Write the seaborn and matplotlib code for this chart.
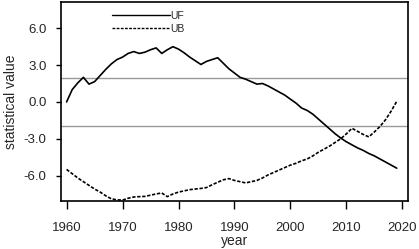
import numpy as np
import pandas as pd
import matplotlib
matplotlib.use("Agg")
import matplotlib.pyplot as plt
import seaborn as sns
from matplotlib.ticker import FuncFormatter

years = list(range(1960, 2020))
uf = [0.0, 1.0, 1.55, 2.0, 1.45, 1.65, 2.15, 2.65, 3.1, 3.45,
      3.65, 3.95, 4.1, 3.95, 4.05, 4.25, 4.4, 3.95, 4.25, 4.5,
      4.3, 4.0, 3.65, 3.35, 3.05, 3.3, 3.45, 3.6, 3.15, 2.7,
      2.35, 2.0, 1.85, 1.65, 1.45, 1.5, 1.3, 1.05, 0.8, 0.55,
      0.22, -0.1, -0.5, -0.7, -1.0, -1.4, -1.8, -2.2, -2.6, -2.95,
      -3.25, -3.5, -3.75, -3.95, -4.2, -4.4, -4.65, -4.9, -5.15, -5.4]
ub = [-5.5, -5.85, -6.2, -6.5, -6.8, -7.1, -7.35, -7.65, -7.9, -7.98,
      -8.0, -7.85, -7.75, -7.72, -7.7, -7.6, -7.5, -7.42, -7.72, -7.5,
      -7.35, -7.25, -7.15, -7.1, -7.05, -6.98, -6.75, -6.55, -6.35, -6.25,
      -6.4, -6.5, -6.6, -6.5, -6.4, -6.2, -5.95, -5.75, -5.55, -5.35,
      -5.15, -5.0, -4.8, -4.65, -4.4, -4.1, -3.85, -3.6, -3.3, -3.0,
      -2.6, -2.15, -2.4, -2.65, -2.85, -2.45, -2.0, -1.45, -0.75, 0.05]
crit = [1.96, -1.96]
xticks = [1960, 1970, 1980, 1990, 2000, 2010, 2020]
yticks = [-6.0, -3.0, 0.0, 3.0, 6.0]

df = pd.DataFrame({
    "year": years * 2,
    "value": uf + ub,
    "series": ["UF"] * len(years) + ["UB"] * len(years),
})

sns.set_theme(style="white")
plt.rcParams["font.family"] = ["Liberation Sans", "DejaVu Sans"]

fig = plt.figure(figsize=(4.19, 2.49), dpi=100)
ax = fig.add_axes([0.1456, 0.194, 0.828, 0.796])

for c in crit:
    ax.axhline(c, color="#9a9a9a", lw=1.0, zorder=1)

sns.lineplot(data=df, x="year", y="value", style="series",
             style_order=["UF", "UB"],
             dashes={"UF": "", "UB": (2, 1)},
             color="black", lw=1.2, ax=ax, zorder=3)

ax.set_xlim(1959, 2021)
ax.set_ylim(-8.05, 8.1)
ax.set_xticks(xticks)
ax.set_yticks(yticks)
ax.yaxis.set_major_formatter(FuncFormatter(lambda v, p: f"{v:.1f}"))
ax.tick_params(axis="both", which="major", direction="out",
               width=1.0, color="black", labelsize=9.5,
               bottom=True, left=True)
ax.tick_params(axis="x", length=5.5, pad=10)
ax.tick_params(axis="y", length=3.5, pad=7)
for s in ax.spines.values():
    s.set_color("black")
    s.set_linewidth(1.2)

ax.set_xlabel("year", fontsize=10, labelpad=0)
ax.set_ylabel("statistical value", fontsize=10, labelpad=4)

leg = ax.legend(loc="upper left", bbox_to_anchor=(112 / 419, 1 - 11 / 249),
                bbox_transform=fig.transFigure, frameon=False,
                fontsize=7.5, handlelength=5.6, handletextpad=0.0,
                labelspacing=0.3, borderaxespad=0.0, borderpad=0.0)
for h in leg.get_lines():
    h.set_linewidth(1.0)

fig.savefig("out.png", dpi=100)
